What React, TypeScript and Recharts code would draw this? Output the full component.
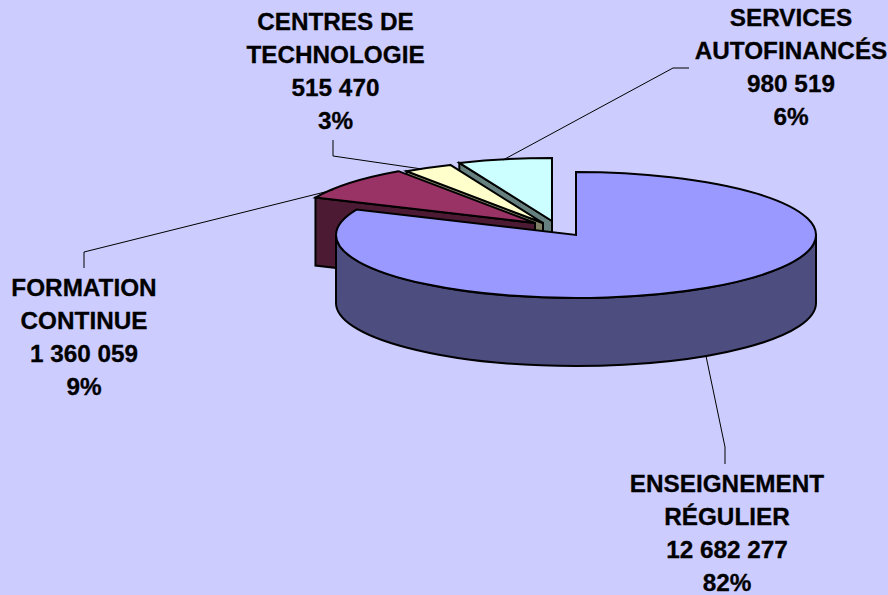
import React from "react";
import { PieChart, Pie } from "recharts";

// Draw order runs back to front, so the largest slice comes last.
const categories = ["SERVICES AUTOFINANCÉS", "CENTRES DE TECHNOLOGIE", "FORMATION CONTINUE", "ENSEIGNEMENT RÉGULIER"];
const values = [980519, 515470, 1360059, 12682277];
const labelLines = [
  ["SERVICES", "AUTOFINANCÉS"],
  ["CENTRES DE", "TECHNOLOGIE"],
  ["FORMATION", "CONTINUE"],
  ["ENSEIGNEMENT", "RÉGULIER"],
];

const topColors = ["#CCFFFF", "#FFFFCC", "#993366", "#9999FF"];
const wallColors = ["#668080", "#808066", "#4D1A33", "#4D4D80"];
const explodeX = [-24, -33, -41, 0];
const explodeY = [-14, -12, -12, 0];
const labelX = [791, 335.5, 84, 727];
const labelY = [26, 29.5, 296, 492];
const leaders = [
  "689,68 673,68 503,160",
  "333,140 333,156 422,169",
  "84,268 84,252 333,190",
  "706,356 725,447 725,464",
];

const CX = 576;
const CY = 235;
const RX = 240;
const RY = 63;
const DEPTH = 68;
const LINE_HEIGHT = 33;

const tableData = categories.map((name, i) => ({ name, value: values[i] }));
const total = values.reduce((a, b) => a + b, 0);
const formatValue = (v: number) => String(v).replace(/\B(?=(\d{3})+$)/g, " ");

function Slice3D(props: any) {
  const { cx, cy, outerRadius, startAngle, endAngle, index } = props;
  const i: number = index ?? categories.indexOf(props.name);
  const ratio = RY / RX;
  const ox = cx + explodeX[i];
  const oy = cy + explodeY[i];
  const span = Math.abs(endAngle - startAngle);
  // clockwise-from-top angles; the library rounds its angles, so snap the noise away
  const a1 = ((Math.round((90 - Math.max(startAngle, endAngle)) * 100) / 100) % 360 + 360) % 360;
  const a2 = a1 + span;
  const pt = (a: number, dz = 0) => {
    const r = (a * Math.PI) / 180;
    return [ox + outerRadius * Math.sin(r), oy - outerRadius * ratio * Math.cos(r) + dz];
  };
  const rx = outerRadius;
  const ry = outerRadius * ratio;
  const p1 = pt(a1);
  const p2 = pt(a2);
  const top = `M${ox},${oy} L${p1[0]},${p1[1]} A${rx},${ry} 0 ${span > 180 ? 1 : 0} 1 ${p2[0]},${p2[1]} Z`;

  const stroke = { stroke: "#000", strokeWidth: 2, strokeLinejoin: "miter" as const };
  const parts: React.ReactNode[] = [];
  // cut face seen by the viewer
  if (Math.sin((a1 * Math.PI) / 180) < -1e-3) {
    const b = pt(a1, DEPTH);
    parts.push(
      <path
        key="face"
        d={`M${ox},${oy} L${p1[0]},${p1[1]} L${b[0]},${b[1]} L${ox},${oy + DEPTH} Z`}
        fill={wallColors[i]}
        {...stroke}
      />
    );
  }
  // outer wall on the near half of the rim
  const v1 = Math.max(a1, 90);
  const v2 = Math.min(a2, 270);
  if (v2 > v1) {
    const vm = (v1 + v2) / 2;
    const w1 = pt(v1);
    const wm = pt(vm);
    const w2 = pt(v2);
    const w3 = pt(v2, DEPTH);
    const wn = pt(vm, DEPTH);
    const w4 = pt(v1, DEPTH);
    parts.push(
      <path
        key="wall"
        d={`M${w1[0]},${w1[1]} A${rx},${ry} 0 0 1 ${wm[0]},${wm[1]} A${rx},${ry} 0 0 1 ${w2[0]},${w2[1]} L${w3[0]},${w3[1]} A${rx},${ry} 0 0 0 ${wn[0]},${wn[1]} A${rx},${ry} 0 0 0 ${w4[0]},${w4[1]} Z`}
        fill={wallColors[i]}
        {...stroke}
      />
    );
  }
  parts.push(<path key="top" d={top} fill={topColors[i]} {...stroke} />);
  return <g>{parts}</g>;
}

function renderLabel(props: any) {
  const i: number = props.index;
  const lines = [...labelLines[i], formatValue(values[i]), `${Math.round((values[i] / total) * 100)}%`];
  return (
    <g key={categories[i]}>
      <polyline points={leaders[i]} fill="none" stroke="#000" strokeWidth={1} />
      <text
        textAnchor="middle"
        fontFamily="'Liberation Sans', Arial, sans-serif"
        fontWeight="bold"
        fontSize={24.3}
        fill="#000"
        stroke="#000"
        strokeWidth={0.3}
      >
        {lines.map((line, k) => (
          <tspan key={k} x={labelX[i]} y={labelY[i] + k * LINE_HEIGHT}>
            {line}
          </tspan>
        ))}
      </text>
    </g>
  );
}

export default function App() {
  return (
    <div style={{ position: "absolute", left: 0, top: 0, width: 888, height: 595, background: "#CCCCFF", overflow: "hidden" }}>
      <PieChart width={888} height={595} margin={{ top: 0, right: 0, bottom: 0, left: 0 }}>
        <Pie
          data={tableData}
          dataKey="value"
          nameKey="name"
          cx={CX}
          cy={CY}
          innerRadius={0}
          outerRadius={RX}
          startAngle={90}
          endAngle={450}
          paddingAngle={0}
          stroke="none"
          isAnimationActive={false}
          shape={Slice3D as any}
          activeShape={Slice3D as any}
          inactiveShape={Slice3D as any}
          label={renderLabel}
          labelLine={false}
        />
      </PieChart>
    </div>
  );
}
